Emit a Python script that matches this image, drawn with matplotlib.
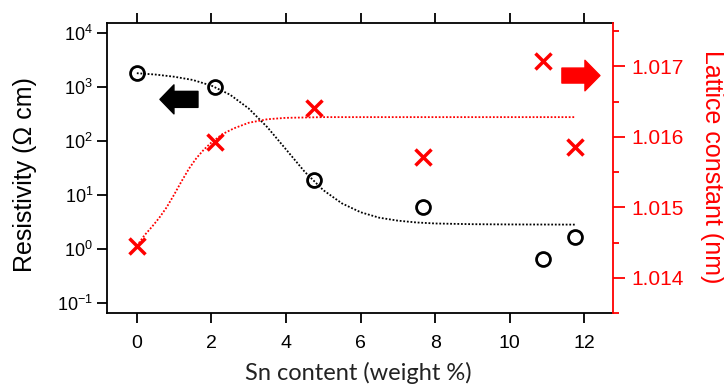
import numpy as np
import matplotlib
matplotlib.use("Agg")
import matplotlib.pyplot as plt

plt.rcParams['font.family'] = ['Liberation Sans', 'DejaVu Sans']
plt.rcParams['mathtext.fontset'] = 'custom'
plt.rcParams['mathtext.rm'] = 'Liberation Sans'
plt.rcParams['mathtext.it'] = 'Liberation Sans:italic'
plt.rcParams['axes.unicode_minus'] = False

# measured points
sn = [0, 2.1, 4.75, 7.68, 10.9, 11.75]
resistivity = [1820, 1000, 19, 6.0, 0.65, 1.66]
lattice = [1.01445, 1.01592, 1.01641, 1.01572, 1.01708, 1.01586]

# guide curves
rho_fit_x = [0, 0.5, 1, 1.5, 2, 2.5, 3, 3.5, 4, 4.5, 5, 5.5, 6, 6.5, 7, 7.5, 8, 9, 10, 11.75]
rho_fit = [1800, 1700, 1550, 1350, 1060, 720, 400, 180, 70, 27, 12.3, 7.0, 4.8, 3.8,
           3.35, 3.1, 2.97, 2.88, 2.85, 2.83]
lat_fit_x = [0, 0.2, 0.4, 0.6, 0.8, 1.0, 1.2, 1.4, 1.6, 1.8, 2.0, 2.3, 2.6, 3.0, 3.5,
             4.0, 5.0, 6.0, 8.0, 10.0, 11.75]
lat_fit = [1.01445, 1.01460, 1.01472, 1.01485, 1.01500, 1.01518, 1.01537, 1.01555,
           1.01570, 1.01582, 1.01592, 1.01604, 1.01612, 1.01620, 1.01625, 1.01627,
           1.01628, 1.01628, 1.01628, 1.01628, 1.01628]

xticks = [0, 2, 4, 6, 8, 10, 12]
lat_ticks = [1.014, 1.015, 1.016, 1.017]

red = '#ff0000'

fig = plt.figure(figsize=(7.24, 3.85), dpi=100)
ax = fig.add_axes([107 / 724, 1 - 313 / 385, 506 / 724, 290 / 385])
ax2 = ax.twinx()

# resistivity (left, log)
ax.plot(rho_fit_x, rho_fit, color='black', ls=(0, (1, 1)), lw=1.3, zorder=2)
ax.plot(sn, resistivity, 'o', ms=10, mfc='none', mec='black', mew=2, zorder=3)
ax.set_yscale('log')
ax.set_ylim(10 ** -1.185, 10 ** 4.185)
ax.set_xlim(-0.8, 12.77)
ax.set_xticks(xticks)
ax.set_yticks([1e-1, 1e0, 1e1, 1e2, 1e3, 1e4])
ax.minorticks_off()
ax.tick_params(axis='x', which='both', top=True, direction='out', length=7,
               width=1.3, labelsize=14, pad=9)
ax.tick_params(axis='y', direction='out', length=7, width=1.3, labelsize=13, pad=3)
for s in ['left', 'top', 'bottom']:
    ax.spines[s].set_linewidth(1.3)
ax.spines['right'].set_visible(False)

# lattice constant (right)
ax2.plot(lat_fit_x, lat_fit, color=red, ls=(0, (1, 1)), lw=1.3, zorder=2)
ax2.plot(sn, lattice, 'x', ms=11, mec=red, mew=2.5, zorder=3)
ax2.set_ylim(1.013871, 1.017616)
ax2.set_yticks(lat_ticks)
ax2.set_yticks(np.arange(1.0135, 1.0180, 0.0005), minor=True)
ax2.set_yticklabels(['%.3f' % v for v in lat_ticks])
ax2.tick_params(axis='y', which='major', direction='out', length=8.5, width=1.3,
                colors=red, labelsize=15, pad=5)
ax2.tick_params(axis='y', which='minor', direction='out', length=4.5, width=1.3, colors=red)
for s in ['left', 'top', 'bottom']:
    ax2.spines[s].set_visible(False)
ax2.spines['right'].set_color(red)
ax2.spines['right'].set_linewidth(1.3)

# arrows pointing at each axis
ax.annotate('', xy=(0.62, 590), xytext=(1.64, 590),
            arrowprops=dict(arrowstyle='simple,head_length=0.56,head_width=1.16,tail_width=0.64',
                            color='black', shrinkA=0, shrinkB=0, mutation_scale=18))
ax2.annotate('', xy=(12.42, 1.01687), xytext=(11.40, 1.01687),
             arrowprops=dict(arrowstyle='simple,head_length=0.6,head_width=1.22,tail_width=0.6',
                             color=red, shrinkA=0, shrinkB=0, mutation_scale=18))

# axis titles
ax.text(0.497, -0.231, 'Sn content (weight %)', transform=ax.transAxes, ha='center',
        va='baseline', fontsize=17, family=['Lato', 'DejaVu Sans'], color='#222222')
ax.text(-0.162, 0.476, 'Resistivity (\u03a9 cm)', transform=ax.transAxes, rotation=90,
        ha='center', va='center', fontsize=18)
ax2.text(1.196, 0.505, 'Lattice constant (nm)', transform=ax2.transAxes, rotation=270,
         ha='center', va='center', fontsize=18, color=red)

fig.savefig('out.png', dpi=100)
